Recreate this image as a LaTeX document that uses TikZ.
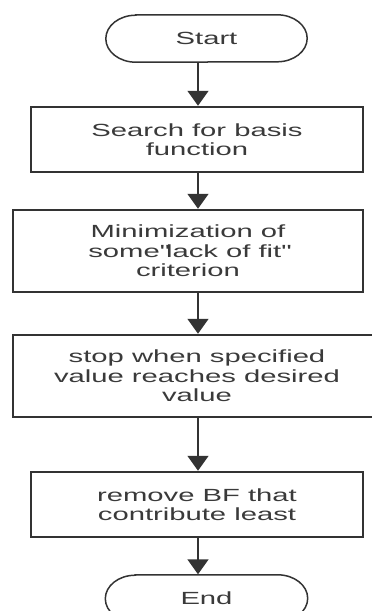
\documentclass[tikz,border=0pt]{standalone}
\usepackage{fontspec}
\setmainfont{Liberation Sans}[FakeStretch=1.66]
\usetikzlibrary{arrows.meta}
\definecolor{ln}{HTML}{333333}
\definecolor{tx}{HTML}{3A3A3A}
\begin{document}
\begin{tikzpicture}[x=1pt,y=1pt,
  every node/.style={text=tx,font=\fontsize{17.6}{19.5}\selectfont,align=center,inner sep=0pt},
  procbox/.style={draw=ln,line width=1.5pt,fill=white},
  termbox/.style={draw=none},
  termline/.style={draw=ln,line width=1.5pt},
  arr/.style={draw=ln,line width=1.5pt,-{Triangle[width=21pt,length=15pt]},shorten >=0.5pt}]
\useasboundingbox (0,0) rectangle (372,-611);
\fill[white] (0,0) rectangle (372,-611);
\coordinate (ax) at (198,0);
\node[termbox,minimum width=201pt,minimum height=47pt] (s) at (206.5,-38.5) {Start};
\node[procbox,minimum width=332pt,minimum height=65pt] (b1) at (197,-139.5) {Search for basis\\function};
\node[procbox,minimum width=350pt,minimum height=82pt] (b2) at (188,-251) {Minimization of\\some\textquotedbl lack of fit\textquotedbl\\criterion};
\node[procbox,minimum width=368pt,minimum height=82pt] (b3) at (197,-376) {stop when specified\\value reaches desired\\value};
\node[procbox,minimum width=332pt,minimum height=65pt] (b4) at (197,-504.5) {remove BF that\\contribute least};
\node[termbox,minimum width=202pt,minimum height=47pt] (e) at (206.5,-598.5) {End};
\foreach \n in {s,e}{
  \draw[termline] ([xshift=30pt]\n.north west) -- ([xshift=-30pt]\n.north east)
    arc[start angle=90,end angle=-90,x radius=30pt,y radius=23.5pt]
    -- ([xshift=30pt]\n.south west)
    arc[start angle=270,end angle=90,x radius=30pt,y radius=23.5pt] -- cycle;
}
\draw[arr] (s.south -| ax) -- (b1.north -| ax);
\draw[arr] (b1.south -| ax) -- (b2.north -| ax);
\draw[arr] (b2.south -| ax) -- (b3.north -| ax);
\draw[arr] (b3.south -| ax) -- (b4.north -| ax);
\draw[arr] (b4.south -| ax) -- (e.north -| ax);
\end{tikzpicture}
\end{document}
